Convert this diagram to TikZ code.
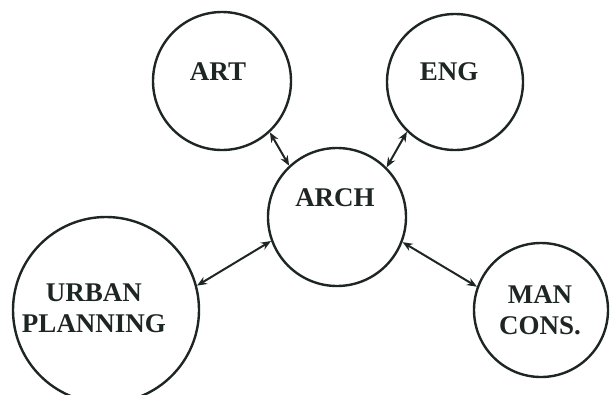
\documentclass[tikz,border=0pt]{standalone}
\usepackage{fontspec}
\setmainfont{Liberation Serif}
\usepackage{xcolor}
\definecolor{ink}{HTML}{1e2624}
\usetikzlibrary{arrows.meta,calc}
\tikzset{FIELD/.style={circle,draw=ink,line width=2.4pt,inner sep=0pt}}
\tikzset{NAME/.style={text=ink,font=\fontsize{27}{31}\selectfont\bfseries,align=center}}
\tikzset{LINK/.style={draw=ink,line width=2pt,{Stealth[length=10pt,width=8pt]}-{Stealth[length=10pt,width=8pt]}}}

\begin{document}
\begin{tikzpicture}[x=1pt,y=-1pt]
\useasboundingbox (0,0) rectangle (610,394);

\node[FIELD,minimum size=138pt] (n_art) at (222,81) {};
\node[FIELD,minimum size=136pt] (n_eng) at (455,82) {};
\node[FIELD,minimum size=138pt] (n_arch) at (337,217) {};
\node[FIELD,minimum size=186pt] (n_urban) at (106,310) {};
\node[FIELD,minimum size=134pt] (n_man) at (541,310) {};

\node[NAME] (t_art) at ($(n_art)+(-4,-9)$) {ART};
\node[NAME] (t_eng) at ($(n_eng)+(-6,-10)$) {ENG};
\node[NAME] (t_arch) at ($(n_arch)+(-2,-19)$) {ARCH};
\node[NAME] (t_urban) at ($(n_urban)+(-12,-2)$) {URBAN\\PLANNING};
\node[NAME] (t_man) at ($(n_man)+(-1,0)$) {MAN\\CONS.};

\draw[LINK] (n_art.-47) -- (n_arch.133);
\draw[LINK] (n_eng.-134) -- (n_arch.45);
\draw[LINK] (n_urban.15) -- (n_arch.200);
\draw[LINK] (n_man.160) -- (n_arch.-21);

\end{tikzpicture}
\end{document}
